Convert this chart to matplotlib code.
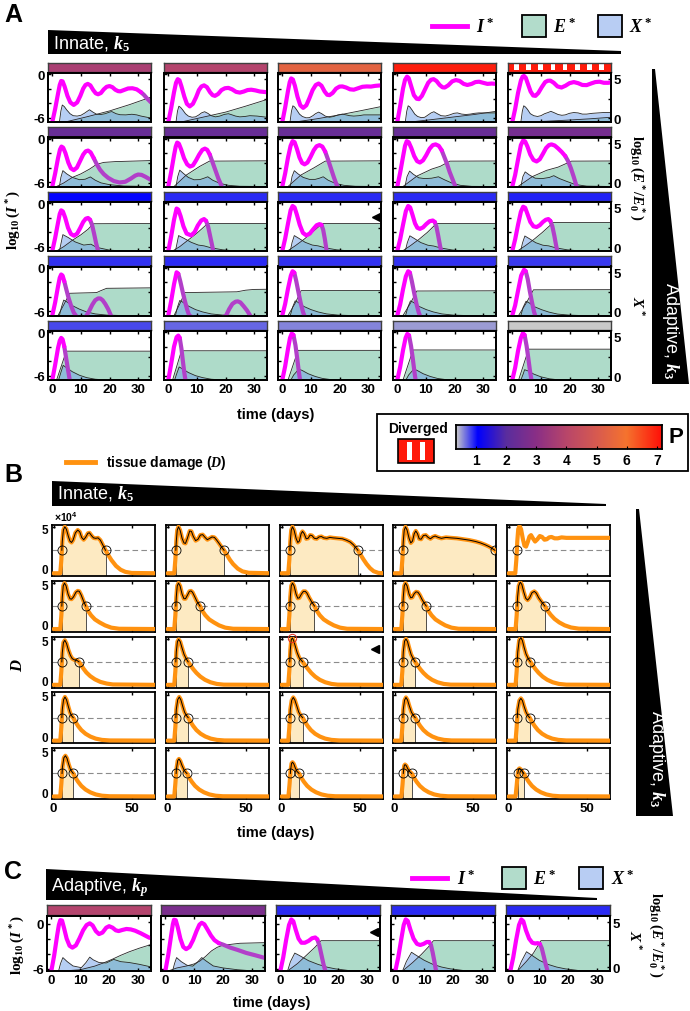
import numpy as np
import matplotlib.pyplot as plt
from matplotlib.colors import LinearSegmentedColormap, Normalize
from matplotlib.lines import Line2D
from matplotlib.patches import Polygon, Rectangle

# -----------------------------
# DATA: panel A, log10(I*) per cell as (day, value), rows top -> bottom
# -----------------------------
a_istar_r1 = [
    [(0, -6.6), (1, -4.8), (2, -2.7), (2.6, -1.5), (3.1, -0.95), (3.6, -1.0), (4.3, -1.7), (5.3, -3.0), (6.3, -3.9),
     (7.5, -4.25), (8.7, -3.9), (9.8, -3.0), (10.8, -2.0), (11.6, -1.5), (12.4, -1.35), (13.3, -1.55), (14.3, -2.2),
     (15.2, -2.65), (16, -2.78), (17, -2.6), (18, -2.1), (19, -1.75), (20, -1.65), (21, -1.8), (22, -2.15), (23, -2.35),
     (23.8, -2.38), (25, -2.2), (26.5, -1.98), (28, -1.95), (29.5, -2.1), (31, -2.5), (32, -2.85), (33, -3.3), (34.5, -3.9)],
    [(0, -6.6), (1, -4.7), (2, -2.5), (2.7, -1.2), (3.3, -0.7), (3.9, -0.85), (4.6, -1.7), (5.6, -3.1), (6.5, -4.1),
     (7.5, -4.45), (8.6, -4.1), (9.7, -3.2), (10.7, -2.2), (11.6, -1.7), (12.5, -1.55), (13.5, -1.8), (14.6, -2.5),
     (15.5, -2.9), (16.3, -3.0), (17.4, -2.75), (18.6, -2.2), (19.8, -1.95), (21, -1.9), (22.3, -2.1), (23.7, -2.45),
     (25, -2.55), (26.4, -2.4), (27.7, -2.2), (29, -2.15), (30.5, -2.25), (32, -2.4), (34.5, -2.5)],
    [(0, -6.6), (1, -4.6), (2, -2.3), (2.6, -1.1), (3.1, -0.6), (3.7, -0.75), (4.4, -1.6), (5.3, -3.1), (6.3, -4.3),
     (7.3, -4.65), (8.4, -4.3), (9.5, -3.3), (10.6, -2.2), (11.7, -1.5), (12.7, -1.3), (13.7, -1.6), (14.8, -2.4),
     (15.7, -2.85), (16.5, -2.9), (17.6, -2.6), (18.8, -2.0), (20, -1.72), (21, -1.7), (22.3, -1.85), (23.7, -2.1),
     (25, -2.15), (26.5, -1.95), (28, -1.75), (29.5, -1.7), (31, -1.72), (32.5, -1.62), (34.5, -1.55)],
    [(0, -6.6), (1, -4.4), (2, -2.0), (2.7, -0.8), (3.4, -0.35), (4.0, -0.55), (4.8, -1.6), (5.8, -2.9), (6.8, -3.4),
     (7.6, -3.45), (8.6, -3.0), (9.7, -2.1), (10.8, -1.2), (11.8, -0.78), (12.7, -0.7), (13.7, -0.95), (14.8, -1.5),
     (15.8, -1.82), (16.6, -1.85), (17.8, -1.55), (19.2, -1.0), (20.5, -0.82), (21.8, -0.95), (23.2, -1.35), (24.5, -1.5),
     (26, -1.35), (27.3, -1.1), (28.6, -1.05), (30, -1.2), (31.5, -1.35), (33, -1.3), (34.5, -1.35)],
    [(0, -6.6), (1, -4.8), (2, -2.6), (3, -0.9), (3.6, -0.35), (4.1, -0.25), (4.7, -0.5), (5.5, -1.4), (6.4, -2.4),
     (7.3, -2.95), (8.1, -3.0), (9.1, -2.6), (10.3, -1.8), (11.5, -1.1), (12.4, -0.92), (13.3, -0.9), (14.5, -1.2),
     (15.8, -1.7), (17.2, -1.85), (18.6, -1.6), (20, -1.25), (21.5, -1.1), (23, -1.25), (24.5, -1.5), (26, -1.52),
     (27.5, -1.3), (29, -1.1), (30.5, -1.05), (32, -1.2), (33.5, -1.2), (34.5, -1.15)],
]
a_istar_r2 = [
    [(0, -6.6), (1, -4.8), (2, -2.7), (2.7, -1.5), (3.2, -1.1), (3.8, -1.25), (4.6, -2.0), (5.6, -3.3), (6.5, -4.1),
     (7.5, -4.35), (8.6, -4.0), (9.7, -3.1), (10.8, -2.2), (11.7, -1.75), (12.5, -1.65), (13.4, -1.9), (14.5, -2.7),
     (15.5, -3.5), (16.7, -4.3), (18, -4.9), (19.5, -5.4), (21.5, -5.85), (23.5, -6.05), (25.5, -5.95), (27.5, -5.5),
     (29, -5.1), (30, -4.95), (31.2, -5.0), (32.5, -5.25), (34.5, -5.7)],
    [(0, -6.6), (1, -4.6), (2, -2.3), (2.6, -1.1), (3.1, -0.55), (3.7, -0.7), (4.5, -1.5), (5.5, -2.7), (6.6, -3.55),
     (7.6, -3.85), (8.6, -3.7), (9.7, -3.0), (10.8, -2.2), (11.9, -1.55), (12.8, -1.38), (13.6, -1.55), (14.5, -2.2),
     (15.5, -3.3), (16.5, -4.4), (17.5, -5.5), (18.7, -6.6)],
    [(0, -6.6), (1, -4.8), (2, -2.6), (2.9, -1.0), (3.6, -0.35), (4.3, -0.5), (5.1, -1.4), (6, -2.6), (6.9, -3.35),
     (7.8, -3.55), (8.8, -3.3), (9.9, -2.5), (11, -1.6), (12, -1.05), (13, -0.9), (14, -1.1), (15, -1.8), (16, -2.9),
     (17, -4.1), (18, -5.3), (19.2, -6.6)],
    [(0, -6.6), (1, -4.7), (2, -2.5), (2.7, -1.0), (3.3, -0.35), (4, -0.5), (4.9, -1.3), (5.9, -2.4), (6.9, -3.1),
     (7.9, -3.3), (9, -3.0), (10.1, -2.3), (11.3, -1.4), (12.4, -0.9), (13.4, -0.8), (14.5, -1.0), (15.5, -1.6),
     (16.4, -2.5), (17.3, -3.4), (18.3, -4.6), (19.5, -5.8), (20.3, -6.6)],
    [(0, -6.6), (1, -5.0), (2, -2.9), (3, -0.9), (3.8, -0.25), (4.5, -0.4), (5.3, -1.1), (6.3, -2.2), (7.4, -2.95),
     (8.5, -3.15), (9.6, -2.85), (10.7, -2.1), (11.8, -1.3), (12.8, -0.9), (13.7, -0.8), (14.8, -0.95), (16, -1.35),
     (17.3, -1.85), (18.5, -2.4), (19.5, -3.1), (20.5, -4.1), (21.5, -5.3), (22.5, -6.6)],
]
a_istar_r3 = [
    [(0, -6.6), (1, -4.8), (2, -2.7), (2.6, -1.5), (3.1, -1.0), (3.7, -1.15), (4.5, -2.0), (5.5, -3.4), (6.5, -4.25),
     (7.6, -4.5), (8.7, -4.2), (9.8, -3.4), (10.8, -2.6), (11.7, -2.15), (12.5, -2.05), (13.2, -2.3), (13.9, -3.0),
     (14.6, -4.2), (15.3, -5.5), (16, -6.6)],
    [(0, -6.6), (1, -4.6), (2, -2.3), (2.9, -0.75), (3.5, -0.9), (4.3, -1.8), (5.3, -3.2), (6.4, -4.2), (8, -4.45),
     (9.2, -4.0), (10.3, -3.1), (11.5, -2.4), (12.5, -2.2), (13.2, -2.45), (13.9, -3.2), (14.6, -4.5), (15.3, -5.8),
     (15.7, -6.6)],
    [(0, -6.6), (1, -4.9), (2, -2.8), (2.9, -1.0), (3.6, -0.4), (4.3, -0.6), (5.1, -1.6), (6.1, -3.0), (7.2, -4.1),
     (8.4, -4.45), (9.6, -4.2), (10.8, -3.6), (12, -3.05), (13, -2.9), (13.7, -3.0), (14.3, -3.7), (14.9, -5.0),
     (15.5, -6.6)],
    [(0, -6.6), (1, -5.0), (2, -3.0), (3, -1.1), (3.8, -0.4), (4.5, -0.6), (5.3, -1.6), (6.2, -2.8), (7, -3.4),
     (7.9, -3.55), (9, -3.35), (10.1, -2.9), (11.3, -2.5), (12.4, -2.4), (13.1, -2.6), (13.7, -3.3), (14.3, -4.5),
     (14.9, -5.8), (15.3, -6.6)],
    [(0, -6.6), (1, -5.0), (2, -3.0), (3, -1.2), (3.8, -0.5), (4.5, -0.65), (5.3, -1.5), (6.3, -2.6), (7.4, -3.2),
     (8.5, -3.3), (9.6, -3.05), (10.7, -2.6), (11.7, -2.3), (12.6, -2.2), (13.3, -2.45), (14, -3.2), (14.7, -4.5),
     (15.3, -5.8), (15.7, -6.6)],
]
a_istar_r4 = [
    [(0, -6.6), (1, -4.8), (2, -2.6), (2.6, -1.4), (3.1, -0.95), (3.6, -1.1), (4.2, -1.9), (4.9, -3.0), (5.7, -4.2),
     (6.6, -5.3), (7.5, -6.2), (8.2, -6.6), (10, -7.5), (12, -6.6), (13, -5.9), (14, -5.1), (15, -4.5), (16, -4.25),
     (16.8, -4.25), (17.6, -4.5), (18.5, -5.0), (19.5, -5.7), (20.5, -6.6), (22, -7.5)],
    [(0, -6.6), (1, -4.6), (2, -2.3), (2.9, -0.65), (3.5, -0.85), (4.2, -1.9), (5, -3.3), (5.8, -4.6), (6.6, -5.8),
     (7.3, -6.6), (14, -8.0), (20.2, -6.6), (21.3, -5.7), (22.4, -5.0), (23.5, -4.7), (24.3, -4.65), (25.2, -4.8),
     (26.3, -5.3), (27.5, -5.9), (28.6, -6.6), (30, -7.5)],
    [(0, -6.6), (1, -5.0), (2, -2.9), (3, -1.1), (3.6, -0.5), (4.2, -0.7), (4.9, -1.9), (5.7, -3.5), (6.5, -5.0),
     (7.3, -6.2), (7.7, -6.6)],
    [(0, -6.6), (1, -5.1), (2, -3.0), (3, -1.2), (3.8, -0.5), (4.4, -0.7), (5.1, -1.9), (5.9, -3.5), (6.7, -5.0),
     (7.5, -6.2), (7.9, -6.6)],
    [(0, -6.6), (1, -5.2), (2, -3.2), (3.1, -1.1), (4.1, -0.3), (4.7, -0.5), (5.4, -1.6), (6.1, -3.2), (6.9, -4.8),
     (7.6, -6.1), (8.0, -6.6)],
]
a_istar_r5 = [
    [(0, -6.6), (1, -4.5), (2, -2.2), (2.6, -1.2), (3.1, -0.8), (3.6, -1.0), (4.2, -2.0), (4.8, -3.5), (5.5, -5.2), (6.1, -6.6)],
    [(0, -6.6), (1, -4.4), (2, -2.0), (2.9, -0.7), (3.5, -0.48), (4.0, -0.8), (4.6, -2.3), (5.1, -4.0), (5.6, -5.6), (6.0, -6.6)],
    [(0, -6.6), (1, -4.7), (2, -2.3), (2.7, -0.8), (3.3, -0.2), (3.9, -0.4), (4.6, -1.8), (5.2, -3.6), (5.8, -5.5), (6.2, -6.6)],
    [(0, -6.6), (1, -4.8), (2, -2.5), (2.9, -0.8), (3.5, -0.25), (4.1, -0.45), (4.8, -1.9), (5.4, -3.6), (6.0, -5.5), (6.4, -6.6)],
    [(0, -6.6), (1, -4.9), (2, -2.6), (3, -0.8), (3.7, -0.15), (4.3, -0.4), (5.0, -1.9), (5.6, -3.6), (6.2, -5.4), (6.7, -6.6)],
]
# day from which I* is drawn in the clearance colour (None = never)
a_clear_r1 = [32.0, None, None, None, None]
a_clear_r2 = [15.0, 15.0, 15.7, 16.3, 19.3]
a_clear_r3 = [13.7, 13.5, 13.8, 13.2, 13.4]
a_clear_r4 = [4.3, 4.0, 4.7, 4.9, 5.2]
a_clear_r5 = [4.4, 4.2, 4.6, 4.8, 5.0]

# log10(E*/E0*) per cell
a_estar_r1 = [
    [(4.5, -0.45), (12, 0.2), (20, 0.95), (27, 1.75), (34.5, 2.7)],
    [(4.5, -0.45), (12, 0.15), (20, 0.8), (27, 1.55), (34.5, 2.4)],
    [(4.5, -0.45), (12, -0.05), (20, 0.45), (27, 0.95), (34.5, 1.5)],
    [(4.5, -0.45), (12, -0.15), (20, 0.2), (27, 0.5), (34.5, 0.9)],
    [(4.5, -0.45), (12, -0.35), (20, -0.2), (27, -0.05), (34.5, 0.15)],
]
a_estar_r2 = [
    [(1.5, -0.45), (4, 0.0), (7, 0.7), (10, 1.15), (13, 1.75), (15.5, 2.35), (18, 2.6), (22, 2.7), (34.5, 2.83)],
    [(2, -0.45), (6.3, 1.0), (11, 2.1), (14.4, 2.76), (34.5, 2.8)],
    [(2, -0.45), (6.5, 1.0), (11, 1.9), (15, 2.76), (34.5, 2.8)],
    [(2, -0.45), (7, 0.9), (12, 1.75), (15, 2.1), (18.4, 2.76), (34.5, 2.78)],
    [(2, -0.45), (7, 0.8), (12, 1.6), (16, 2.0), (20.7, 2.76), (34.5, 2.78)],
]
a_estar_r3 = [
    [(1.5, -0.45), (4, 0.1), (7, 0.9), (10, 1.6), (12.5, 2.3), (14.3, 3.0), (34.5, 3.03)],
    [(1.5, -0.45), (4, 0.1), (7, 0.95), (10, 1.8), (13.8, 3.03), (34.5, 3.03)],
    [(1.8, -0.45), (4.5, 0.2), (7.5, 1.0), (10.5, 1.9), (14, 3.03), (34.5, 3.03)],
    [(1.8, -0.45), (4.5, 0.2), (7.5, 1.0), (10.5, 1.9), (13.7, 3.03), (34.5, 3.03)],
    [(1.8, -0.45), (4.5, 0.2), (7.5, 1.0), (10.5, 1.9), (14.3, 3.15), (34.5, 3.15)],
]
a_estar_r4 = [
    [(2, -0.45), (4, 0.9), (6.1, 2.36), (10, 2.4), (15.5, 2.45), (17, 2.7), (19, 2.99), (34.5, 3.05)],
    [(2, -0.45), (4, 1.0), (5.8, 2.45), (15, 2.5), (24, 2.55), (27, 2.75), (30, 2.85), (34.5, 2.87)],
    [(2, -0.45), (4.5, 1.1), (6.6, 2.7), (34.5, 2.72)],
    [(2, -0.45), (4.6, 1.1), (6.8, 2.65), (34.5, 2.68)],
    [(2.2, -0.45), (5, 1.2), (7.4, 2.8), (34.5, 2.82)],
]
a_estar_r5 = [
    [(1.5, -0.45), (4.9, 3.2), (34.5, 3.2)],
    [(1.5, -0.45), (4.6, 3.25), (34.5, 3.25)],
    [(2, -0.45), (5.5, 3.3), (34.5, 3.3)],
    [(2, -0.45), (5.5, 3.35), (34.5, 3.35)],
    [(2.2, -0.45), (5.7, 3.45), (34.5, 3.45)],
]

# X* per cell
a_xstar_r1 = [
    [(2.5, -0.45), (3.0, 0.93), (3.5, 1.7), (4.2, 1.5), (5, 1.1), (6.2, 0.6), (7.3, 0.35), (8.7, 0.3), (10, 0.4),
     (11.2, 0.65), (12, 0.85), (13, 1.1), (14.2, 0.8), (15.5, 0.53), (17, 0.5), (18.5, 0.6), (20, 0.8), (20.8, 0.87),
     (22.3, 0.6), (23.7, 0.47), (25.7, 0.45), (27.8, 0.53), (29.5, 0.45), (31, 0.3), (34.5, 0.05)],
    [(2.7, -0.45), (3.2, 0.9), (3.7, 1.55), (4.3, 1.4), (5, 1.1), (6, 0.6), (7, 0.3), (8.3, 0.15), (9.5, 0.2),
     (10.7, 0.45), (11.6, 0.7), (12.7, 0.85), (13.8, 0.65), (15, 0.35), (16.5, 0.2), (18, 0.3), (19.5, 0.5), (21, 0.6),
     (22.3, 0.45), (23.5, 0.3), (25, 0.2), (26.8, 0.25), (28.5, 0.35), (31, 0.3), (34.5, 0.15)],
    [(2.7, -0.45), (3.2, 0.9), (3.7, 1.6), (4.3, 1.45), (5, 1.1), (6, 0.55), (7, 0.25), (8.3, 0.08), (9.5, 0.1),
     (10.7, 0.35), (11.6, 0.6), (12.7, 0.8), (13.8, 0.6), (15, 0.3), (16.5, 0.15), (18, 0.25), (19.5, 0.45), (21, 0.55),
     (22.3, 0.45), (23.5, 0.35), (25, 0.3), (26.8, 0.35), (28.5, 0.45), (31, 0.45), (34.5, 0.45)],
    [(2.8, -0.45), (3.3, 0.9), (3.8, 1.6), (4.4, 1.45), (5.1, 1.1), (6.1, 0.55), (7.1, 0.25), (8.4, 0.1), (9.6, 0.15),
     (10.8, 0.45), (11.8, 0.7), (12.8, 0.85), (14, 0.6), (15.3, 0.35), (16.8, 0.3), (18.3, 0.45), (19.8, 0.65), (21, 0.7),
     (22.5, 0.55), (24, 0.5), (25.5, 0.55), (27, 0.65), (28.5, 0.7), (31, 0.7), (34.5, 0.7)],
    [(3, -0.45), (3.5, 0.9), (4.0, 1.6), (4.6, 1.45), (5.3, 1.15), (6.3, 0.6), (7.5, 0.35), (8.8, 0.25), (10, 0.35),
     (11.3, 0.6), (12.5, 0.75), (13.5, 0.9), (14.8, 0.7), (16, 0.5), (17.3, 0.4), (18.5, 0.45), (20, 0.65), (21.5, 0.75),
     (23, 0.7), (24.5, 0.55), (26, 0.55), (28, 0.65), (30, 0.7), (32, 0.75), (34.5, 0.75)],
]
a_xstar_r2 = [
    [(2.5, -0.45), (3.0, 0.7), (3.7, 1.56), (5, 1.16), (7, 0.7), (9.5, 0.41), (11.5, 0.47), (13.3, 0.76), (15, 0.35),
     (17, 0.01), (20, -0.22), (25, -0.39), (34.5, -0.45)],
    [(2.7, -0.45), (3.3, 0.8), (4, 1.62), (5.3, 1.2), (7, 0.7), (9, 0.4), (11, 0.42), (12.5, 0.6), (13.8, 0.78),
     (15.5, 0.35), (18, -0.05), (21, -0.3), (25, -0.42), (34.5, -0.45)],
    [(2.8, -0.45), (3.4, 0.8), (4.2, 1.55), (5.5, 1.15), (7.3, 0.7), (9.5, 0.45), (11.5, 0.45), (13, 0.6), (14.3, 0.78),
     (16, 0.35), (18.5, -0.05), (21.5, -0.3), (25.5, -0.42), (34.5, -0.45)],
    [(2.7, -0.45), (3.4, 0.8), (4.3, 1.5), (5.6, 1.1), (7.5, 0.65), (9.5, 0.55), (12, 0.6), (14.4, 0.78), (16.5, 0.4),
     (19, 0.0), (22, -0.3), (26, -0.43), (34.5, -0.45)],
    [(3, -0.45), (3.7, 0.8), (4.5, 1.4), (6, 1.0), (8, 0.6), (10.5, 0.55), (13, 0.7), (14.5, 0.92), (16.5, 0.55),
     (19, 0.2), (22, -0.2), (26, -0.4), (34.5, -0.45)],
]
a_xstar_r3 = [
    [(2.5, -0.45), (3.1, 0.6), (3.7, 1.62), (5.5, 1.27), (8, 0.7), (11, 0.3), (13.5, 0.41), (15.5, 0.01), (20, -0.34),
     (25, -0.45), (34.5, -0.45)],
    [(2.5, -0.45), (3.1, 0.6), (3.6, 1.5), (5.5, 1.15), (8, 0.65), (10.5, 0.3), (12.5, 0.2), (15, -0.05), (19, -0.3),
     (24, -0.45), (34.5, -0.45)],
    [(2.8, -0.45), (3.4, 0.6), (4.2, 1.5), (5.8, 1.15), (8, 0.65), (10.5, 0.3), (12.5, 0.2), (15, -0.05), (19, -0.3),
     (24, -0.45), (34.5, -0.45)],
    [(2.8, -0.45), (3.5, 0.6), (4.4, 1.47), (6, 1.12), (8.2, 0.62), (10.7, 0.28), (12.7, 0.18), (15.2, -0.07),
     (19.2, -0.32), (24, -0.45), (34.5, -0.45)],
    [(2.9, -0.45), (3.6, 0.6), (4.4, 1.45), (6, 1.1), (8.2, 0.6), (10.7, 0.28), (12.7, 0.2), (15.2, -0.05), (19.2, -0.3),
     (24, -0.45), (34.5, -0.45)],
]
a_xstar_r4 = [
    [(2.5, -0.45), (3.2, 0.6), (4, 1.5), (5, 1.3), (7, 0.8), (9.5, 0.35), (12, 0.0), (15, -0.25), (19, -0.4),
     (24, -0.45), (34.5, -0.45)],
    [(2.5, -0.45), (3.2, 0.6), (4, 1.45), (5, 1.25), (7, 0.75), (9.5, 0.3), (12, 0.0), (15, -0.25), (19, -0.4),
     (24, -0.45), (34.5, -0.45)],
    [(2.8, -0.45), (3.6, 0.6), (4.5, 1.4), (5.6, 1.2), (7.5, 0.7), (10, 0.3), (12.5, 0.0), (15.5, -0.25), (19.5, -0.4),
     (24, -0.45), (34.5, -0.45)],
    [(2.9, -0.45), (3.7, 0.6), (4.6, 1.4), (5.7, 1.2), (7.6, 0.7), (10.1, 0.3), (12.6, 0.0), (15.6, -0.25),
     (19.6, -0.4), (24, -0.45), (34.5, -0.45)],
    [(3, -0.45), (3.8, 0.6), (4.8, 1.35), (5.9, 1.15), (7.8, 0.65), (10.3, 0.28), (12.8, -0.02), (15.8, -0.27),
     (19.8, -0.4), (24, -0.45), (34.5, -0.45)],
]
a_xstar_r5 = [
    [(2.2, -0.45), (3, 0.5), (3.8, 1.4), (5, 1.1), (7, 0.6), (9.5, 0.15), (12, -0.15), (15, -0.35), (19, -0.45), (34.5, -0.45)],
    [(2.2, -0.45), (3, 0.4), (3.8, 1.2), (5, 0.95), (7, 0.5), (9.5, 0.1), (12, -0.15), (15, -0.35), (19, -0.45), (34.5, -0.45)],
    [(3, -0.45), (4, 0.2), (5.8, 0.93), (7, 0.75), (9, 0.35), (11.5, 0.0), (14, -0.25), (17, -0.4), (21, -0.45), (34.5, -0.45)],
    [(3, -0.45), (4, 0.2), (5.8, 0.93), (7, 0.75), (9, 0.35), (11.5, 0.0), (14, -0.25), (17, -0.4), (21, -0.45), (34.5, -0.45)],
    [(3, -0.45), (3.8, 0.3), (4.3, 0.85), (5.5, 0.7), (7.5, 0.3), (10, -0.05), (13, -0.3), (16, -0.42), (20, -0.45), (34.5, -0.45)],
]

# P value shown in the bar above each cell (nan = diverged)
a_p_r1 = [3.7, 3.9, 5.4, 7.0, np.nan]
a_p_r2 = [2.3, 2.3, 2.3, 2.3, 2.6]
a_p_r3 = [1.05, 0.92, 0.92, 0.92, 0.93]
a_p_r4 = [0.9, 0.92, 0.9, 0.9, 0.85]
a_p_r5 = [0.82, 0.7, 0.6, 0.52, 0.36]

# -----------------------------
# DATA: panel B, tissue damage D (x1e4) per cell, and 2.5 crossing days
# -----------------------------
b_damage_r1 = [
    [(0, 0), (4.3, 0), (5.0, 1.5), (5.6, 3.5), (6.3, 4.7), (7.2, 5.05), (8.2, 4.8), (9.5, 4.0), (10.5, 3.5), (11.5, 3.35),
     (12.5, 3.6), (14, 4.4), (15.5, 4.7), (16.8, 4.5), (18, 3.9), (19.3, 3.65), (20.5, 3.9), (22, 4.35), (23, 4.4),
     (24.3, 4.1), (25.6, 3.85), (27, 3.8), (28.5, 3.85), (30, 3.6), (31.5, 3.1), (33.3, 2.5), (35, 2.0), (37, 1.45),
     (40, 0.8), (43, 0.38), (46, 0.15), (50, 0.03), (65, 0)],
    [(0, 0), (4.3, 0), (5, 1.5), (5.6, 3.5), (6.2, 4.7), (7, 5.05), (8, 4.7), (9.3, 3.8), (10.5, 3.3), (11.5, 3.25),
     (12.7, 3.8), (14.2, 4.6), (15.3, 4.55), (16.5, 4.0), (18, 3.55), (19.5, 3.7), (21, 4.15), (22.5, 4.2), (24, 3.9),
     (25.5, 3.65), (27, 3.8), (28.5, 3.95), (30, 3.9), (31.5, 3.6), (33, 3.25), (34.6, 2.85), (36.2, 2.5), (38, 2.0),
     (40, 1.45), (42, 1.0), (45, 0.5), (48, 0.2), (52, 0.05), (65, 0)],
    [(0, 0), (4.3, 0), (5, 1.5), (5.6, 3.5), (6.2, 4.7), (7, 5.05), (8, 4.7), (9.3, 3.8), (10.4, 3.35), (11.4, 3.5),
     (12.5, 4.3), (13.4, 4.55), (14.5, 4.3), (15.8, 3.75), (17, 3.8), (18.3, 4.15), (19.5, 4.1), (21, 3.8), (22.5, 3.75),
     (24, 3.95), (25.5, 4.0), (27, 3.85), (29, 3.8), (31, 3.9), (33, 3.85), (36, 3.8), (39, 3.75), (41.5, 3.6),
     (44, 3.4), (46, 3.1), (47.5, 2.8), (48.9, 2.5), (50.5, 2.05), (52.5, 1.5), (54.5, 1.0), (56.7, 0.55), (59, 0.22),
     (62, 0.04), (65, 0)],
    [(0, 0), (4.3, 0), (5, 1.5), (5.6, 3.5), (6.2, 4.7), (7, 5.05), (8, 4.7), (9.3, 3.8), (10.4, 3.3), (11.5, 3.5),
     (12.6, 4.3), (13.6, 4.6), (14.7, 4.3), (15.8, 3.75), (17, 3.7), (18.5, 4.1), (20, 4.15), (21.5, 3.9), (23, 3.75),
     (24.5, 3.95), (26, 4.05), (28, 3.9), (30, 3.8), (33, 3.9), (36, 3.85), (40, 3.8), (44, 3.7), (48, 3.6), (52, 3.45),
     (55, 3.3), (58, 3.1), (60.5, 2.9), (62.5, 2.7), (64.3, 2.5), (65, 2.35)],
    [(0, 0), (4.3, 0), (5, 1.5), (5.6, 3.5), (6.2, 4.8), (7, 5.15), (8, 4.8), (9.2, 3.7), (10.2, 3.0), (11.2, 2.9),
     (12.3, 3.4), (13.4, 4.0), (14.4, 4.15), (15.6, 3.8), (17, 3.45), (18.5, 3.7), (20, 4.05), (21.5, 3.95), (23, 3.65),
     (24.5, 3.7), (26, 3.9), (27.5, 3.95), (29.5, 3.8), (31.5, 3.8), (34, 3.9), (37, 3.85), (45, 3.85), (55, 3.85),
     (65, 3.85)],
]
b_damage_r2 = [
    [(0, 0), (4.3, 0), (5, 1.5), (5.6, 3.5), (6.2, 4.7), (7, 5.0), (8, 4.7), (9.3, 3.8), (10.5, 3.3), (11.5, 3.25),
     (12.8, 3.5), (14.3, 4.0), (15.5, 4.15), (16.5, 4.1), (17.7, 3.7), (19.2, 3.05), (20.6, 2.5), (22.2, 1.95), (24, 1.5),
     (26.5, 1.05), (29.5, 0.72), (33, 0.4), (37, 0.15), (42, 0.03), (65, 0)],
    [(0, 0), (4.3, 0), (5, 1.5), (5.6, 3.5), (6.2, 4.7), (7, 5.0), (8, 4.7), (9.3, 3.8), (10.5, 3.3), (11.5, 3.3),
     (12.8, 3.7), (14, 4.1), (15, 4.15), (16, 4.0), (17.3, 3.55), (19, 2.95), (20.8, 2.5), (22.4, 1.95), (24.2, 1.5),
     (26.7, 1.05), (29.7, 0.72), (33, 0.4), (37, 0.15), (42, 0.03), (65, 0)],
    [(0, 0), (4.3, 0), (5, 1.5), (5.6, 3.5), (6.2, 4.7), (7, 5.0), (8, 4.7), (9.3, 3.8), (10.4, 3.35), (11.4, 3.4),
     (12.7, 3.8), (14, 4.1), (15.2, 4.1), (16.3, 3.9), (17.6, 3.45), (19.3, 2.95), (21.1, 2.5), (22.7, 1.95), (24.5, 1.5),
     (27, 1.05), (30, 0.72), (33.5, 0.4), (37.5, 0.15), (42, 0.03), (65, 0)],
    [(0, 0), (4.3, 0), (5, 1.5), (5.6, 3.5), (6.2, 4.7), (7, 5.0), (8, 4.7), (9.3, 3.8), (10.4, 3.4), (11.4, 3.45),
     (12.6, 3.85), (13.8, 4.05), (15, 4.0), (16.2, 3.7), (17.5, 3.25), (18.9, 2.85), (20.3, 2.5), (21.9, 1.95),
     (23.7, 1.5), (26.2, 1.05), (29.2, 0.72), (32.5, 0.4), (36.5, 0.15), (41, 0.03), (65, 0)],
    [(0, 0), (4.5, 0), (5.2, 1.5), (5.8, 3.5), (6.5, 4.7), (7.5, 5.1), (8.5, 4.85), (9.8, 4.0), (11, 3.35), (12.2, 3.15),
     (13.5, 3.4), (15, 3.95), (16.5, 4.1), (17.8, 3.9), (19.3, 3.4), (21.2, 2.95), (23.2, 2.5), (25, 2.0), (27, 1.55),
     (29.5, 1.1), (32.5, 0.72), (36, 0.4), (40, 0.17), (45, 0.04), (65, 0)],
]
b_damage_r3 = [
    [(0, 0), (4.3, 0), (5, 1.5), (5.6, 3.5), (6.3, 4.6), (7.2, 4.85), (8.3, 4.5), (9.5, 3.8), (10.8, 3.2), (12, 2.85),
     (13.3, 2.72), (14.6, 2.68), (15.5, 2.6), (16.3, 2.5), (17.5, 2.2), (19, 1.8), (21, 1.35), (23.5, 0.95), (26.5, 0.6),
     (30, 0.32), (34, 0.14), (38, 0.04), (65, 0)],
    [(0, 0), (4.3, 0), (5, 1.5), (5.6, 3.6), (6.3, 4.7), (7.1, 4.95), (8.1, 4.7), (9.3, 4.0), (10.6, 3.3), (11.9, 2.85),
     (13.2, 2.5), (14.8, 2.1), (16.5, 1.7), (18.5, 1.3), (21, 0.9), (24, 0.55), (27.5, 0.28), (31.5, 0.1), (36, 0.02),
     (65, 0)],
    [(0, 0), (4.3, 0), (5, 1.6), (5.6, 3.8), (6.2, 4.9), (6.9, 5.1), (7.7, 4.85), (8.8, 4.2), (10, 3.5), (11.3, 2.95),
     (12.5, 2.7), (13.5, 2.5), (15, 2.15), (16.8, 1.75), (19, 1.3), (21.5, 0.9), (24.5, 0.55), (28, 0.28), (32, 0.1),
     (36, 0.02), (65, 0)],
    [(0, 0), (4.3, 0), (5, 1.5), (5.6, 3.6), (6.4, 4.75), (7.3, 5.0), (8.3, 4.7), (9.4, 4.0), (10.6, 3.3), (11.9, 2.85),
     (13.2, 2.5), (14.8, 2.1), (16.5, 1.7), (18.5, 1.3), (21, 0.9), (24, 0.55), (27.5, 0.28), (31.5, 0.1), (36, 0.02),
     (65, 0)],
    [(0, 0), (4.5, 0), (5.2, 1.5), (5.9, 3.6), (6.8, 4.85), (7.9, 5.15), (8.9, 4.8), (10, 4.05), (11.2, 3.35),
     (12.6, 2.85), (14, 2.5), (15.6, 2.1), (17.3, 1.7), (19.3, 1.3), (21.8, 0.9), (24.8, 0.55), (28.3, 0.28),
     (32.3, 0.1), (37, 0.02), (65, 0)],
]
b_damage_r4 = [
    [(0, 0), (4.3, 0), (5, 1.5), (5.6, 3.4), (6.4, 4.45), (7.3, 4.75), (8.3, 4.45), (9.4, 3.75), (10.6, 3.05),
     (11.6, 2.7), (12.6, 2.5), (14, 2.05), (15.7, 1.6), (17.8, 1.15), (20.5, 0.75), (23.5, 0.45), (27, 0.22), (31, 0.08),
     (36, 0.02), (65, 0)],
    [(0, 0), (4.3, 0), (5, 1.5), (5.6, 3.4), (6.5, 4.45), (7.5, 4.75), (8.5, 4.45), (9.7, 3.75), (10.9, 3.1), (12, 2.75),
     (13.2, 2.5), (14.7, 2.05), (16.4, 1.6), (18.5, 1.15), (21.2, 0.75), (24.2, 0.45), (27.7, 0.22), (31.7, 0.08),
     (36.5, 0.02), (65, 0)],
    [(0, 0), (4.3, 0), (5, 1.5), (5.6, 3.4), (6.5, 4.4), (7.5, 4.7), (8.5, 4.42), (9.8, 3.75), (11, 3.1), (12.2, 2.75),
     (13.5, 2.5), (15, 2.05), (16.7, 1.6), (18.8, 1.15), (21.5, 0.75), (24.5, 0.45), (28, 0.22), (32, 0.08), (37, 0.02),
     (65, 0)],
    [(0, 0), (4.3, 0), (5, 1.5), (5.6, 3.4), (6.4, 4.4), (7.3, 4.7), (8.3, 4.42), (9.5, 3.75), (10.8, 3.1), (12, 2.75),
     (13.2, 2.5), (14.7, 2.05), (16.4, 1.6), (18.5, 1.15), (21.2, 0.75), (24.2, 0.45), (27.7, 0.22), (31.7, 0.08),
     (36.5, 0.02), (65, 0)],
    [(0, 0), (4.5, 0), (5.2, 1.5), (5.9, 3.4), (6.9, 4.35), (7.9, 4.6), (8.9, 4.35), (10, 3.7), (11.2, 3.1),
     (12.3, 2.75), (13.5, 2.5), (15, 2.05), (16.7, 1.6), (18.8, 1.15), (21.5, 0.75), (24.5, 0.45), (28, 0.22),
     (32, 0.08), (37, 0.02), (65, 0)],
]
b_damage_r5 = [
    [(0, 0), (4.3, 0), (5, 1.4), (5.7, 3.2), (6.6, 4.2), (7.6, 4.43), (8.6, 4.15), (9.7, 3.5), (10.8, 2.95), (11.7, 2.7),
     (12.6, 2.5), (14, 2.05), (15.7, 1.6), (17.8, 1.15), (20.5, 0.75), (23.5, 0.45), (27, 0.22), (31, 0.08), (36, 0.02),
     (65, 0)],
    [(0, 0), (4.3, 0), (5, 1.4), (5.7, 3.0), (6.5, 3.9), (7.3, 4.08), (8.2, 3.85), (9.3, 3.35), (10.5, 2.9), (11.5, 2.65),
     (12.4, 2.5), (13.8, 2.05), (15.5, 1.6), (17.6, 1.15), (20.3, 0.75), (23.3, 0.45), (26.8, 0.22), (30.8, 0.08),
     (35.5, 0.02), (65, 0)],
    [(0, 0), (4.4, 0), (5.1, 1.3), (5.8, 2.9), (6.4, 3.6), (7.0, 3.72), (7.8, 3.55), (8.8, 3.1), (9.9, 2.72),
     (11.2, 2.5), (12.6, 2.05), (14.3, 1.6), (16.4, 1.15), (19.1, 0.75), (22.1, 0.45), (25.6, 0.22), (29.6, 0.08),
     (34.5, 0.02), (65, 0)],
    [(0, 0), (4.4, 0), (5.1, 1.3), (5.7, 2.75), (6.2, 3.35), (6.7, 3.47), (7.5, 3.35), (8.5, 3.0), (9.7, 2.7),
     (11.0, 2.5), (12.4, 2.05), (14.1, 1.6), (16.2, 1.15), (18.9, 0.75), (21.9, 0.45), (25.4, 0.22), (29.4, 0.08),
     (34.3, 0.02), (65, 0)],
    [(0, 0), (4.5, 0), (5.2, 1.2), (5.9, 2.5), (6.4, 2.95), (7.0, 3.05), (7.8, 2.95), (8.8, 2.7), (9.8, 2.5),
     (11.2, 2.05), (12.9, 1.6), (15, 1.15), (17.7, 0.75), (20.7, 0.45), (24.2, 0.22), (28.2, 0.08), (33, 0.02), (65, 0)],
]
# (start, end) day at which D crosses 2.5e4 (end None = never back down)
b_cross_r1 = [(5.3, 33.3), (5.3, 36.2), (5.3, 48.9), (5.3, 64.3), (5.3, None)]
b_cross_r2 = [(5.3, 20.6), (5.3, 20.8), (5.3, 21.1), (5.3, 20.3), (5.5, 23.2)]
b_cross_r3 = [(5.3, 16.3), (5.3, 13.2), (5.25, 13.5), (5.3, 13.2), (5.53, 14.0)]
b_cross_r4 = [(5.32, 12.6), (5.32, 13.2), (5.32, 13.5), (5.32, 13.2), (5.55, 13.5)]
b_cross_r5 = [(5.43, 12.6), (5.48, 12.4), (5.63, 11.2), (5.6, 11.0), (5.9, 9.8)]
# peak flagged in red (row, col, day, D)
b_peak_flag = (2, 2, 6.9, 5.1)

# -----------------------------
# DATA: panel C (one row, adaptive k_p decreasing)
# -----------------------------
c_istar = [
    [(0, -6.3), (1, -4.2), (2, -1.6), (2.6, -0.2), (3.1, 0.45), (3.7, 0.4), (4.4, -0.6), (5.3, -2.0), (6.3, -2.95),
     (7.3, -3.2), (8.5, -2.9), (9.7, -2.0), (11, -0.9), (12.2, -0.2), (13.3, 0.03), (14.3, -0.25), (15.4, -1.0),
     (16.5, -1.4), (17.7, -1.2), (19, -0.55), (20, -0.35), (21.2, -0.55), (22.3, -0.9), (23.3, -1.0), (24.6, -0.85),
     (26, -0.72), (27.5, -0.78), (29, -0.95), (31, -1.3), (32.5, -1.6), (34, -1.9)],
    [(0, -6.3), (1, -4.2), (2, -1.6), (2.6, -0.1), (3, 0.5), (3.6, 0.45), (4.3, -0.5), (5.2, -2.0), (6.2, -3.1),
     (7.2, -3.4), (8.4, -3.1), (9.6, -2.2), (10.8, -1.0), (11.8, -0.15), (12.6, 0.1), (13.5, -0.1), (14.6, -0.8),
     (15.8, -1.6), (17, -2.2), (18.5, -2.6), (20, -2.8), (22.5, -3.2), (25, -3.5), (28, -3.9), (31, -4.2), (34.3, -4.55)],
    [(0, -6.3), (1, -4.5), (2, -2.2), (3, -0.2), (3.8, 0.55), (4.5, 0.3), (5.3, -0.8), (6.3, -2.0), (7.3, -2.55),
     (8.5, -2.55), (9.8, -2.3), (11, -1.95), (12.1, -1.85), (12.8, -2.1), (13.5, -2.9), (14.3, -4.3), (15, -5.5),
     (15.6, -6.3)],
    [(0, -6.3), (1, -4.5), (2, -2.2), (2.9, -0.2), (3.6, 0.55), (4.3, 0.35), (5.2, -0.8), (6.3, -2.0), (7.5, -2.7),
     (8.6, -2.85), (9.8, -2.7), (10.9, -2.45), (11.7, -2.45), (12.3, -2.8), (12.9, -3.8), (13.5, -5.0), (14.1, -6.3)],
    [(0, -6.3), (1, -4.5), (2, -2.2), (3, -0.2), (3.8, 0.55), (4.5, 0.3), (5.4, -0.9), (6.5, -2.0), (7.6, -2.55),
     (8.6, -2.65), (9.5, -2.6), (10.2, -2.7), (10.9, -3.3), (11.6, -4.4), (12.3, -5.5), (12.9, -6.3)],
]
c_clear = [None, 19.5, 13.0, 12.2, 10.3]
c_estar = [
    [(4, -0.44), (10, -0.3), (15, 0.1), (18, 0.45), (21, 0.85), (24, 1.3), (27, 1.7), (30.5, 2.1), (34, 2.45)],
    [(1, -0.44), (4, -0.1), (7.4, 0.12), (10, 0.35), (12, 0.67), (14, 1.2), (16, 1.8), (18, 2.2), (20, 2.42),
     (25.8, 2.64), (34.3, 2.71)],
    [(2.5, -0.44), (6, 0.4), (9, 1.3), (12, 2.2), (14.1, 2.93), (34.3, 2.93)],
    [(2.5, -0.44), (6, 0.5), (9, 1.4), (11.5, 2.25), (13.2, 2.93), (34.3, 2.93)],
    [(2.5, -0.44), (5.5, 0.6), (8, 1.55), (10.6, 2.93), (34.3, 2.93)],
]
c_xstar = [
    [(2.5, -0.44), (3.2, 0.4), (4, 1.05), (5.5, 0.6), (7.5, 0.12), (10.4, -0.07), (12, 0.5), (13.3, 1.1), (14.5, 0.8),
     (16.5, 0.5), (19, 0.45), (21.6, 0.85), (24, 0.6), (27, 0.5), (30.5, 0.3), (34, 0.05)],
    [(2.5, -0.44), (3.2, 0.4), (3.9, 1.05), (5.5, 0.6), (7.5, 0.2), (9.5, 0.1), (11, 0.5), (12.6, 1.05), (14, 0.7),
     (16.6, 0.12), (20, -0.1), (25, -0.3), (30, -0.42), (34.3, -0.44)],
    [(2.5, -0.44), (3.5, 0.6), (5, 1.55), (6.5, 1.3), (9.8, 0.7), (13, 0.3), (16, 0.0), (19, -0.2), (24, -0.4), (34.3, -0.44)],
    [(2.5, -0.44), (3.8, 0.6), (5.6, 1.64), (7, 1.35), (10, 0.75), (13, 0.3), (16, 0.0), (19, -0.2), (24, -0.4), (34.3, -0.44)],
    [(2.5, -0.44), (3.8, 0.6), (5.6, 1.7), (7, 1.4), (10, 0.75), (13, 0.3), (16, 0.0), (19, -0.2), (24, -0.4), (34.3, -0.44)],
]
c_p = [3.9, 2.7, 0.92, 0.92, 0.92]

# colour scale for P
p_nodes = [0.34, 1.05, 2.0, 3.0, 4.0, 5.0, 6.0, 7.17]
p_colors = ['#c8c8c8', '#0000ff', '#5a2d9e', '#8a2f86', '#b8466a', '#d75a50', '#f5732e', '#ff1008']
p_ticks = [1, 2, 3, 4, 5, 6, 7]

# -----------------------------
# STYLE
# -----------------------------
FIG_W, FIG_H = 690, 1012
MAGENTA = '#ff00ff'
PURPLE = '#b23fc9'
E_FACE = '#5fb894'
X_FACE = '#6f9ee8'
ORANGE = '#ff9210'
SHADE = '#fdeac2'

plt.rcParams['font.family'] = ['Liberation Sans', 'DejaVu Sans']
plt.rcParams['font.weight'] = 'bold'
plt.rcParams['mathtext.fontset'] = 'custom'
plt.rcParams['mathtext.rm'] = 'Liberation Serif:bold'
plt.rcParams['mathtext.it'] = 'Liberation Serif:italic:bold'
plt.rcParams['mathtext.bf'] = 'Liberation Serif:bold'
plt.rcParams['mathtext.sf'] = 'Liberation Sans:bold'
plt.rcParams['axes.linewidth'] = 1.3

p_lo, p_hi = p_nodes[0], p_nodes[-1]
p_cmap = LinearSegmentedColormap.from_list(
    'p_scale', [((v - p_lo) / (p_hi - p_lo), c) for v, c in zip(p_nodes, p_colors)])
p_norm = Normalize(p_lo, p_hi)

fig = plt.figure(figsize=(FIG_W / 100, FIG_H / 100), dpi=100)


def fx(x):
    return x / FIG_W


def fy(y):
    return 1 - y / FIG_H


def add_px_axes(x, y, w, h):
    return fig.add_axes([fx(x), fy(y + h), w / FIG_W, h / FIG_H])


def fig_text(x, y, s, **kw):
    kw.setdefault('ha', 'center')
    kw.setdefault('va', 'center')
    return fig.text(fx(x), fy(y), s, **kw)


def wedge(points, label, label_xy, rotation=0):
    fig.add_artist(Polygon([(fx(px), fy(py)) for px, py in points], closed=True,
                           transform=fig.transFigure, facecolor='k', edgecolor='none', zorder=2))
    t = fig_text(*label_xy, label, color='white', fontsize=13, fontweight='normal',
                 rotation=rotation, ha='left' if rotation == 0 else 'center')
    t.set_zorder(5)


def status_bar(x, y, w, p):
    bx = add_px_axes(x, y, w, 9.5)
    bx.set_xticks([])
    bx.set_yticks([])
    for s in bx.spines.values():
        s.set_linewidth(1.0)
        s.set_color('0.25')
    if np.isnan(p):
        bx.set_facecolor('#ff1a0a')
        for k in range(8):
            bx.add_patch(Rectangle((0.06 + k * 0.118, 0.18), 0.045, 0.64, color='white',
                                   transform=bx.transAxes, lw=0))
    else:
        bx.set_facecolor(p_cmap(p_norm(p)))


def immune_cell(x, y, w, h, istar, clear_t, estar, xstar, ylim_i, ylim_x,
                show_left, show_right, show_x):
    ax = add_px_axes(x, y, w, h)
    axr = ax.twinx()
    ax.set_zorder(axr.get_zorder() + 1)
    ax.patch.set_visible(False)

    te, ve = np.array(estar).T
    tx, vx = np.array(xstar).T
    axr.fill_between(te, ve, ylim_x[0], color=E_FACE, alpha=0.5, lw=0)
    axr.fill_between(tx, vx, ylim_x[0], color=X_FACE, alpha=0.5, lw=0)
    axr.plot(te, ve, color='0.15', lw=0.6)
    axr.plot(tx, vx, color='0.15', lw=0.6)

    ti, vi = np.array(istar).T
    line_kw = dict(lw=3.0, solid_capstyle='round', solid_joinstyle='round')
    if clear_t is None:
        ax.plot(ti, vi, color=MAGENTA, **line_kw)
    else:
        k = int(np.searchsorted(ti, clear_t))
        ax.plot(ti[k - 1:], vi[k - 1:], color=PURPLE, **line_kw)
        ax.plot(ti[:k], vi[:k], color=MAGENTA, **line_kw)

    ax.set_xlim(-1.5, 34.5)
    ax.set_ylim(*ylim_i)
    axr.set_ylim(*ylim_x)
    ax.set_xticks([0, 10, 20, 30])
    ax.set_yticks([-6, -4, -2, 0], ['-6', '', '', '0'])
    axr.set_yticks([0, 2.5, 5], ['0', '', '5'])
    ax.tick_params(direction='in', length=2.5, width=1, top=True, labelsize=9.5, pad=2,
                   labelleft=show_left, labelbottom=show_x)
    axr.tick_params(direction='in', length=2.5, width=1, labelsize=9.5, pad=2,
                    labelright=show_right)
    return ax


def damage_cell(x, y, w, h, pts, cross, show_left, show_x):
    ax = add_px_axes(x, y, w, h)
    t, d = np.array(pts).T
    ax.axhline(2.5, color='0.55', lw=0.8, dashes=(5, 3), zorder=1)
    t0, t1 = cross
    if t1 is not None:
        inside = (t > t0) & (t < t1)
        st = np.r_[t0, t[inside], t1]
        sd = np.r_[2.5, d[inside], 2.5]
        ax.fill_between(st, sd, -0.3, color=SHADE, lw=0, zorder=1)
        ax.vlines([t0, t1], -0.3, 2.5, color='0.2', lw=0.6, zorder=2)
    ax.plot(t, d, color=ORANGE, lw=3.0, solid_capstyle='round', zorder=3)
    if t1 is not None:
        ax.plot(st, sd, color='k', lw=0.7, zorder=4)
        ax.plot([t0, t1], [2.5, 2.5], 'o', ms=6.5, mfc='none', mec='k', mew=0.6, zorder=5)
    else:
        ax.plot([t0], [2.5], 'o', ms=6.5, mfc='none', mec='k', mew=0.6, zorder=5)
    ax.set_xlim(-1, 65)
    ax.set_ylim(-0.3, 5.25)
    ax.set_xticks([0, 50])
    ax.set_yticks([0, 5])
    ax.tick_params(direction='in', length=2.5, width=1, top=True, labelsize=9.5, pad=2,
                   labelleft=False, labelbottom=show_x)
    if show_left:
        # y labels nudged a little toward the row centre so that stacked rows stay readable
        for val, dy in ((0, 2.0), (5, -2.0)):
            ax.annotate(str(val), xy=(0, val), xycoords=('axes fraction', 'data'),
                        xytext=(-3, dy), textcoords='offset points', ha='right', va='center',
                        fontsize=8.5)
    return ax


def flag_marker(ax, xa, ya):
    ax.plot([xa], [ya], marker='<', ms=6, color='k', transform=ax.transAxes, clip_on=False, zorder=10)


def legend_row(x_line, y, x_i, x_ebox, x_e, x_xbox, x_x):
    fig.add_artist(Line2D([fx(x_line), fx(x_line + 35)], [fy(y), fy(y)], color=MAGENTA, lw=3.5,
                          transform=fig.transFigure))
    fig_text(x_i, y, r'$I^*$', fontsize=13, ha='left')
    for bx, face, tx, lab in [(x_ebox, '#b2dccb', x_e, r'$E^*$'), (x_xbox, '#b8cdf3', x_x, r'$X^*$')]:
        fig.add_artist(Rectangle((fx(bx), fy(y + 11)), 24 / FIG_W, 22 / FIG_H, facecolor=face,
                                 edgecolor='k', lw=1.3, transform=fig.transFigure))
        fig_text(tx, y, lab, fontsize=13, ha='left')


# -----------------------------
# PANEL A
# -----------------------------
A_COLS = [48, 164, 278, 393, 508]
A_TOPS = [74, 138.5, 203, 267.5, 332]
A_W, A_H = 103, 49

a_istar = [a_istar_r1, a_istar_r2, a_istar_r3, a_istar_r4, a_istar_r5]
a_clear = [a_clear_r1, a_clear_r2, a_clear_r3, a_clear_r4, a_clear_r5]
a_estar = [a_estar_r1, a_estar_r2, a_estar_r3, a_estar_r4, a_estar_r5]
a_xstar = [a_xstar_r1, a_xstar_r2, a_xstar_r3, a_xstar_r4, a_xstar_r5]
a_p = [a_p_r1, a_p_r2, a_p_r3, a_p_r4, a_p_r5]

for r in range(5):
    for c in range(5):
        status_bar(A_COLS[c], A_TOPS[r] - 10.5, A_W, a_p[r][c])
        ax = immune_cell(A_COLS[c], A_TOPS[r], A_W, A_H, a_istar[r][c], a_clear[r][c],
                         a_estar[r][c], a_xstar[r][c], (-6.6, 0.15), (-0.45, 5.75),
                         c == 0, c == 4, r == 4)
        if (r, c) == (2, 2):
            flag_marker(ax, 0.95, 0.69)

fig_text(13, 15, 'A', fontsize=18)
legend_row(432, 27, 476, 522, 553, 598, 629)
wedge([(48, 31), (621, 52), (621, 55), (48, 55)], r'Innate, $k_5$', (53, 44))
wedge([(652, 70), (655, 70), (689, 385), (652, 385)], r'Adaptive, $k_3$', (671, 330), rotation=-90)
fig_text(14, 220, r'$\log_{10}(I^*)$', fontsize=11, rotation=90)
fig_text(637, 178, r'$\log_{10}(E^*/E^*_0)$', fontsize=10.5, rotation=-90)
fig_text(637, 306, r'$X^*$', fontsize=11, rotation=-90)
fig_text(276, 415, 'time (days)', fontsize=10.5)

# colour key for P
fig.add_artist(Rectangle((fx(377), fy(472)), 311 / FIG_W, 57 / FIG_H, facecolor='none',
                         edgecolor='k', lw=1.3, transform=fig.transFigure))
fig_text(418, 429, 'Diverged', fontsize=10)
fig.add_artist(Rectangle((fx(398), fy(464)), 36 / FIG_W, 24 / FIG_H, facecolor='#ff1a0a',
                         edgecolor='k', lw=1.2, transform=fig.transFigure))
for sx in (407, 420):
    fig.add_artist(Rectangle((fx(sx), fy(461)), 5 / FIG_W, 18 / FIG_H, facecolor='white',
                             lw=0, transform=fig.transFigure))
cax = add_px_axes(456, 426, 206, 24)
cax.imshow(np.linspace(p_lo, p_hi, 256)[None, :], cmap=p_cmap, norm=p_norm, aspect='auto',
           extent=(p_lo, p_hi, 0, 1))
cax.set_xticks(p_ticks)
cax.set_yticks([])
cax.tick_params(direction='in', length=2, width=0.8, labelsize=10, pad=3)
fig_text(676, 438, 'P', fontsize=16)

# -----------------------------
# PANEL B
# -----------------------------
B_COLS = [52, 166, 280, 393, 507]
B_TOPS = [526, 581.8, 637.6, 693.4, 749.2]
B_W, B_H = 103, 51

b_damage = [b_damage_r1, b_damage_r2, b_damage_r3, b_damage_r4, b_damage_r5]
b_cross = [b_cross_r1, b_cross_r2, b_cross_r3, b_cross_r4, b_cross_r5]

for r in range(5):
    for c in range(5):
        ax = damage_cell(B_COLS[c], B_TOPS[r], B_W, B_H, b_damage[r][c], b_cross[r][c], c == 0, r == 4)
        if (r, c) == (2, 2):
            flag_marker(ax, 0.92, 0.75)
        if (r, c) == b_peak_flag[:2]:
            ax.plot([b_peak_flag[2]], [b_peak_flag[3]], 'o', ms=6, mfc='none', mec='#e03020', mew=0.7,
                    zorder=6, clip_on=False)

fig_text(13, 475, 'B', fontsize=18)
fig.add_artist(Line2D([fx(66), fx(95)], [fy(463), fy(463)], color=ORANGE, lw=3.5, transform=fig.transFigure))
fig_text(106, 463, r'tissue damage ($D$)', fontsize=10, ha='left')
wedge([(52, 482), (606, 505), (606, 507), (52, 507)], r'Innate, $k_5$', (57, 494))
wedge([(636, 510), (639, 510), (673, 817), (636, 817)], r'Adaptive, $k_3$', (656, 758), rotation=-90)
fig_text(66, 517, r'×10$^{\mathsf{4}}$', fontsize=7.5)
fig_text(18, 665, r'$D$', fontsize=12, rotation=90)
fig_text(276, 833, 'time (days)', fontsize=10.5)

# -----------------------------
# PANEL C
# -----------------------------
C_COLS = [47, 161, 276, 391, 506]
C_TOP, C_W, C_H = 917, 104, 55

for c in range(5):
    status_bar(C_COLS[c], C_TOP - 11, C_W, c_p[c])
    ax = immune_cell(C_COLS[c], C_TOP, C_W, C_H, c_istar[c], c_clear[c], c_estar[c], c_xstar[c],
                     (-6.3, 1.0), (-0.44, 5.67), c == 0, c == 4, True)
    if c == 2:
        flag_marker(ax, 0.94, 0.71)

fig_text(13, 872, 'C', fontsize=18)
legend_row(412, 879, 457, 502, 533, 579, 611)
wedge([(46, 870), (597, 899), (597, 901), (46, 901)], r'Adaptive, $k_p$', (51, 888))
fig_text(18, 945, r'$\log_{10}(I^*)$', fontsize=11, rotation=90)
fig_text(656, 935, r'$\log_{10}(E^*/E^*_0)$', fontsize=10.5, rotation=-90)
fig_text(634, 940, r'$X^*$', fontsize=11, rotation=-90)
fig_text(272, 1003, 'time (days)', fontsize=10.5)

fig.savefig('out.png', dpi=100, facecolor='white')
